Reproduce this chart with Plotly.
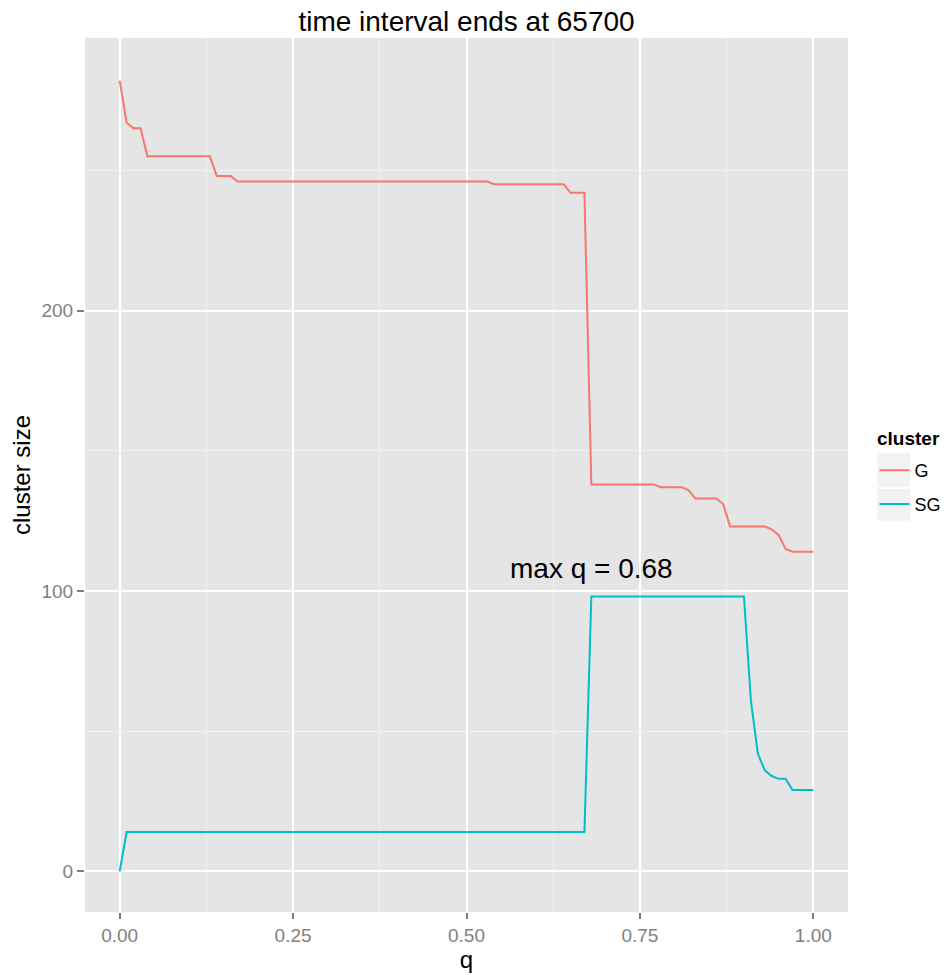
import plotly.graph_objects as go

# ---- data (vertices) ----
q_G = [0.00, 0.01, 0.02, 0.03, 0.04, 0.13, 0.14, 0.16, 0.17, 0.53, 0.54, 0.64,
       0.65, 0.67, 0.68, 0.77, 0.78, 0.81, 0.82, 0.83, 0.86, 0.87, 0.88, 0.93,
       0.94, 0.95, 0.96, 0.97, 1.00]
size_G = [282, 267, 265, 265, 255, 255, 248, 248, 246, 246, 245, 245,
          242, 242, 138, 138, 137, 137, 136, 133, 133, 131, 123, 123,
          122, 120, 115, 114, 114]

q_SG = [0.00, 0.01, 0.67, 0.68, 0.90, 0.91, 0.92, 0.93, 0.94, 0.95, 0.96, 0.97, 1.00]
size_SG = [0, 14, 14, 98, 98, 61, 42, 36, 34, 33, 33, 29, 29]

series_names = ["G", "SG"]
series_colors = ["#F8766D", "#00BFC4"]

x_tick_vals = [0.00, 0.25, 0.50, 0.75, 1.00]
x_tick_text = ["0.00", "0.25", "0.50", "0.75", "1.00"]
x_minor_vals = [0.125, 0.375, 0.625, 0.875]
y_tick_vals = [0, 100, 200]
y_tick_text = ["0", "100", "200"]
y_minor_vals = [50, 150, 250]

title_text = "time interval ends at 65700"
legend_title = "cluster"
annot_text = "max q = 0.68"
annot_q = 0.68
annot_y = 108

FONT = "Liberation Sans, Arial, Helvetica, sans-serif"
TICK_GREY = "#7F7F7F"

W, H = 949, 975
ML, MR, MT, MB = 85, 101, 38, 63
PW = W - ML - MR
PH = H - MT - MB


def px_x(px):
    return (px - ML) / PW


def px_y(py):
    return (H - MB - py) / PH


fig = go.Figure()
for name, xs, ys, col in [(series_names[0], q_G, size_G, series_colors[0]),
                          (series_names[1], q_SG, size_SG, series_colors[1])]:
    fig.add_trace(go.Scatter(x=xs, y=ys, mode="lines", name=name,
                             legendgroup=name,
                             line=dict(color=col, width=2)))

fig.add_annotation(x=annot_q, y=annot_y, text=annot_text, showarrow=False,
                   xanchor="center", yanchor="middle",
                   font=dict(family=FONT, size=28, color="black"))

# legend title (as text) and grey legend key boxes
fig.add_annotation(x=px_x(875), y=px_y(438), xref="paper", yref="paper",
                   text="<b>%s</b>" % legend_title, showarrow=False,
                   xanchor="left", yanchor="middle",
                   font=dict(family=FONT, size=19, color="black"))
for y0, y1 in [(453.3, 486.7), (489, 520.7)]:
    fig.add_shape(type="rect", xref="paper", yref="paper",
                  x0=px_x(877.3), x1=px_x(910), y0=px_y(y1), y1=px_y(y0),
                  line=dict(width=0), fillcolor="#F2F2F2", layer="below")

fig.update_layout(
    width=W, height=H,
    margin=dict(l=ML, r=MR, t=MT, b=MB, autoexpand=False),
    paper_bgcolor="white",
    plot_bgcolor="#E5E5E5",
    font=dict(family=FONT, color="black"),
    title=dict(text=title_text, x=0.5, xref="paper", y=1 - 21.5 / H,
               yref="container", xanchor="center", yanchor="middle",
               font=dict(family=FONT, size=28, color="black")),
    legend=dict(
        font=dict(family=FONT, size=18, color="black"),
        x=px_x(874.5), xanchor="left", y=px_y(487.5), yanchor="middle",
        bgcolor="rgba(0,0,0,0)", tracegroupgap=7.5,
    ),
)

fig.update_xaxes(
    range=[-0.05, 1.05], tickvals=x_tick_vals, ticktext=x_tick_text,
    showgrid=True, gridcolor="white", gridwidth=2,
    minor=dict(tickvals=x_minor_vals, showgrid=True, gridcolor="#F2F2F2", gridwidth=1),
    ticks="outside", ticklen=6, tickwidth=1.5, tickcolor=TICK_GREY,
    tickfont=dict(family=FONT, size=19, color=TICK_GREY),
    zeroline=False, showline=False, automargin=False,
    title=dict(text="q", font=dict(family=FONT, size=24, color="black"), standoff=6),
)
fig.update_yaxes(
    range=[-14.5, 297.2], tickvals=y_tick_vals, ticktext=y_tick_text,
    showgrid=True, gridcolor="white", gridwidth=2,
    minor=dict(tickvals=y_minor_vals, showgrid=True, gridcolor="#F2F2F2", gridwidth=1),
    ticks="outside", ticklen=7, tickwidth=1.5, tickcolor=TICK_GREY,
    tickfont=dict(family=FONT, size=19, color=TICK_GREY),
    zeroline=False, showline=False, automargin=False,
    title=dict(text="cluster size", font=dict(family=FONT, size=24, color="black"), standoff=4),
)

fig.write_html("out.html", config={"displayModeBar": False},
               post_script="document.body.style.margin='0';")
